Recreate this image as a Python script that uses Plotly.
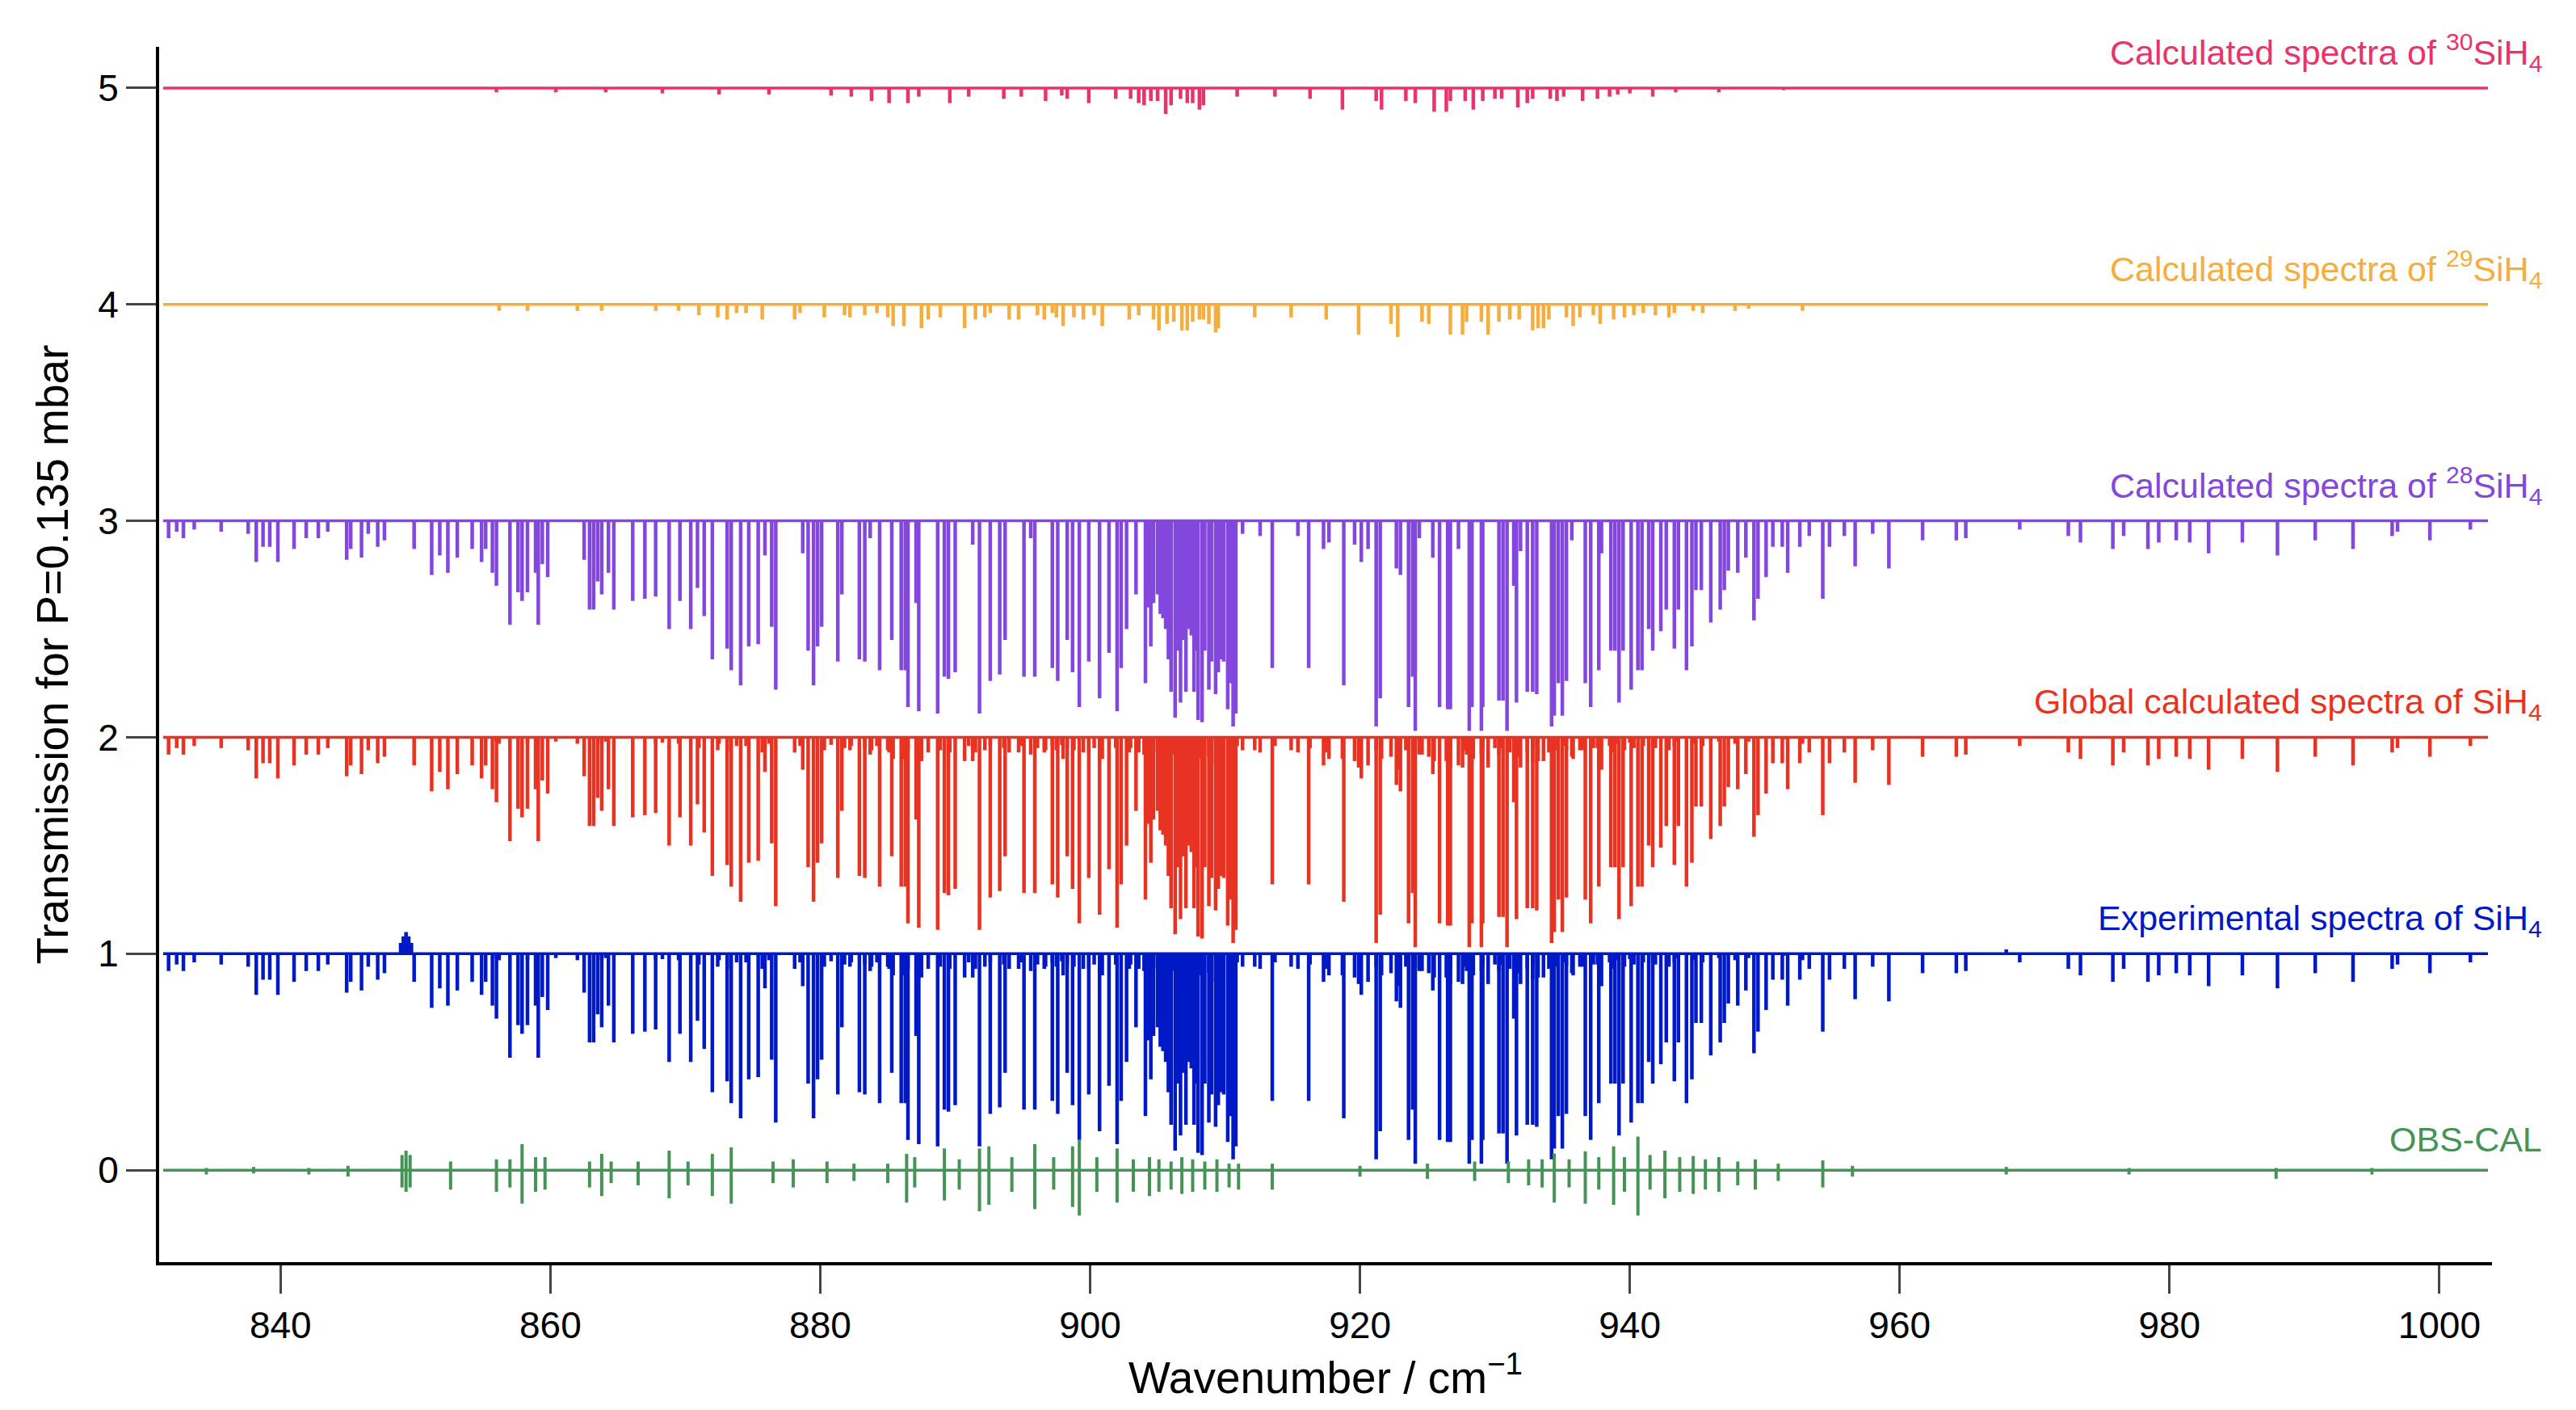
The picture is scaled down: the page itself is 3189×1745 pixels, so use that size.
import plotly.graph_objects as go

# --- 28SiH4 calculated lines (wavenumber, depth in transmission units)
si28_wn = [831.7, 832.3, 832.8, 833.6, 835.6, 837.6, 838.2, 838.7, 839.2, 839.8, 841.0, 841.9,
           842.8, 843.5, 844.9, 845.2, 846.0, 846.5, 847.2, 847.7, 849.9, 851.2, 851.8, 852.4,
           853.1, 854.2, 854.9, 855.2, 855.7, 856.0, 857.0, 857.6, 857.9, 858.3, 858.9, 859.1,
           859.4, 859.8, 862.5, 862.9, 863.2, 863.5, 863.8, 864.3, 864.7, 866.1, 867.0, 867.8,
           868.8, 869.6, 870.4, 870.9, 871.4, 872.0, 873.1, 873.4, 874.1, 874.7,
           875.4, 875.9, 876.4, 876.7, 878.7, 879.1, 879.5, 879.8, 880.1, 881.3, 881.6, 882.9,
           883.3, 883.7, 884.4, 885.3, 886.0, 886.3, 886.5, 887.1, 887.3, 888.7, 889.2, 889.5,
           890.0, 891.3, 891.8, 892.6, 893.3, 893.7, 895.1, 895.6, 895.9, 897.2, 897.6, 898.3,
           898.7, 899.2, 899.9, 900.7, 901.4, 902.0, 902.3, 902.7, 903.4, 904.1, 904.3, 904.5,
           904.7, 905.0, 905.2, 905.4, 905.6, 905.8, 906.0, 906.3, 906.5, 906.7, 906.9, 907.1,
           907.3, 907.5, 907.7, 907.9, 908.0, 908.3, 908.5, 908.8, 909.0, 909.3, 909.5, 909.7,
           909.9, 910.2, 910.4, 910.6, 910.8, 911.3, 912.6, 913.5, 915.4, 916.2, 917.3, 917.7,
           918.8, 919.6, 920.1, 920.6, 921.2, 921.5, 922.7, 923.0, 923.6, 923.9, 924.1, 924.4,
           925.4, 925.9, 926.5, 926.7, 927.3, 928.1, 928.3, 929.0, 929.1, 930.3, 930.6, 930.9,
           931.4, 931.6, 931.9, 932.4, 932.8, 933.1, 934.2, 934.4, 934.7, 935.0, 935.3, 935.7,
           936.7, 937.1, 937.7, 937.9, 938.6, 938.9, 939.2, 939.5, 940.1, 940.6, 940.9, 941.4,
           941.7, 942.3, 942.7, 943.3, 943.6, 944.2, 944.6, 944.9, 945.3, 946.0, 946.7, 947.0,
           947.3, 948.0, 948.6, 949.2, 949.5, 950.1, 950.6, 951.3, 951.7, 952.6, 953.3, 954.3,
           954.8, 955.9, 956.7, 958.0, 959.2, 961.7, 964.2, 964.9, 968.9, 972.5, 973.4, 975.8,
           976.6, 978.4, 979.2, 980.5, 981.5, 982.9, 985.4, 988.0, 990.8, 993.6, 996.5, 996.9,
           999.3, 1002.3]
si28_depth = [0.08, 0.05, 0.08, 0.04, 0.05, 0.06, 0.19, 0.12, 0.12, 0.19, 0.13, 0.08,
              0.08, 0.05, 0.18, 0.13, 0.17, 0.06, 0.12, 0.09, 0.13, 0.25, 0.16, 0.24,
              0.17, 0.13, 0.19, 0.13, 0.24, 0.30, 0.48, 0.33, 0.37, 0.33, 0.24, 0.48,
              0.20, 0.26, 0.18, 0.41, 0.41, 0.28, 0.34, 0.24, 0.41, 0.37, 0.36, 0.35,
              0.50, 0.37, 0.50, 0.31, 0.44, 0.64, 0.59, 0.69, 0.76, 0.58,
              0.57, 0.16, 0.49, 0.78, 0.15, 0.60, 0.76, 0.58, 0.49, 0.65, 0.34, 0.64,
              0.65, 0.08, 0.69, 0.55, 0.69, 0.69, 0.86, 0.38, 0.88, 0.89, 0.72, 0.73,
              0.70, 0.11, 0.89, 0.74, 0.71, 0.55, 0.72, 0.08, 0.72, 0.68, 0.74, 0.55,
              0.70, 0.86, 0.65, 0.82, 0.61, 0.88, 0.68, 0.50, 0.34, 0.75, 0.40, 0.58,
              0.38, 0.34, 0.43, 0.45, 0.50, 0.64, 0.79, 0.91, 0.60, 0.84, 0.55, 0.79,
              0.50, 0.53, 0.79, 0.60, 0.92, 0.93, 0.60, 0.78, 0.65, 0.80, 0.70, 0.64,
              0.65, 0.87, 0.75, 0.95, 0.89, 0.06, 0.07, 0.68, 0.07, 0.68, 0.13, 0.10,
              0.76, 0.11, 0.19, 0.13, 0.95, 0.82, 0.22, 0.25, 0.86, 0.72, 0.97, 0.08,
              0.17, 0.86, 0.87, 0.87, 0.13, 0.97, 0.86, 0.97, 0.86, 0.83, 0.83, 0.97,
              0.30, 0.84, 0.14, 0.79, 0.79, 0.80, 0.95, 0.90, 0.75, 0.90, 0.74, 0.09,
              0.75, 0.86, 0.69, 0.15, 0.60, 0.60, 0.84, 0.60, 0.78, 0.69, 0.69, 0.50,
              0.60, 0.51, 0.41, 0.59, 0.41, 0.69, 0.58, 0.32, 0.32, 0.47, 0.41, 0.32,
              0.23, 0.24, 0.17, 0.46, 0.36, 0.26, 0.12, 0.12, 0.24, 0.12, 0.07, 0.36,
              0.12, 0.07, 0.21, 0.06, 0.22, 0.09, 0.09, 0.08, 0.04, 0.07, 0.10, 0.13,
              0.07, 0.13, 0.10, 0.09, 0.10, 0.15, 0.10, 0.16, 0.09, 0.13, 0.07, 0.05,
              0.09, 0.04]

# --- 29SiH4 calculated lines
si29_wn = [856.2, 858.3, 862.0, 863.8, 867.8, 869.5, 871.0, 872.4, 873.1, 873.8, 874.5, 875.7,
           878.1, 878.5, 880.3, 881.8, 882.2, 883.3, 884.2, 885.0, 885.4, 886.2, 887.5, 888.0,
           888.9, 890.7, 891.5, 892.2, 892.6, 894.0, 894.7, 896.1, 896.6, 897.2, 897.5, 898.0,
           898.8, 899.5, 900.3, 900.9, 902.9, 903.6, 904.7, 905.1, 905.7, 906.2, 906.8, 907.2,
           907.6, 908.1, 908.4, 908.8, 909.3, 909.5, 912.2, 914.9, 917.5, 919.9, 922.3, 922.8,
           924.6, 925.1, 926.7, 927.6, 927.9, 929.0, 929.5, 930.3, 931.1, 931.8, 932.8, 933.2,
           933.6, 934.0, 935.3, 935.8, 936.3, 937.3, 937.8, 938.8, 939.6, 940.3, 941.0, 941.9,
           942.9, 943.3, 944.7, 945.4, 947.8, 948.8, 952.8]
si29_depth = [0.03, 0.03, 0.03, 0.03, 0.03, 0.03, 0.05, 0.06, 0.07, 0.04, 0.04, 0.07,
              0.07, 0.04, 0.06, 0.05, 0.06, 0.05, 0.04, 0.06, 0.10, 0.10, 0.11, 0.07,
              0.06, 0.11, 0.07, 0.06, 0.04, 0.07, 0.07, 0.05, 0.07, 0.04, 0.06, 0.10,
              0.06, 0.07, 0.05, 0.10, 0.07, 0.05, 0.07, 0.12, 0.09, 0.08, 0.12, 0.12,
              0.08, 0.07, 0.07, 0.09, 0.13, 0.11, 0.06, 0.06, 0.07, 0.14, 0.09, 0.15,
              0.08, 0.09, 0.14, 0.14, 0.08, 0.08, 0.14, 0.08, 0.07, 0.07, 0.12, 0.11,
              0.11, 0.07, 0.06, 0.10, 0.06, 0.05, 0.09, 0.07, 0.06, 0.05, 0.04, 0.05,
              0.06, 0.04, 0.03, 0.04, 0.03, 0.02, 0.03]

# --- 30SiH4 calculated lines
si30_wn = [856.0, 860.4, 864.1, 868.3, 872.5, 876.2, 880.8, 882.3, 883.8, 885.1, 886.5, 887.3,
           889.6, 891.0, 893.6, 894.9, 896.7, 897.9, 898.3, 899.9, 901.9, 903.0, 903.6, 904.0,
           904.5, 905.0, 905.6, 906.0, 906.7, 907.2, 907.6, 908.1, 908.4, 910.9, 913.7, 916.3,
           918.7, 921.2, 921.6, 923.4, 924.1, 925.5, 926.4, 926.7, 927.8, 928.4, 929.1, 930.0,
           930.5, 931.7, 932.4, 932.8, 934.1, 934.6, 935.1, 936.5, 937.6, 938.5, 939.1, 940.0,
           941.7, 943.4, 946.6, 951.4]
si30_depth = [0.02, 0.02, 0.02, 0.025, 0.03, 0.03, 0.035, 0.04, 0.06, 0.07, 0.07, 0.04,
              0.07, 0.04, 0.05, 0.04, 0.06, 0.035, 0.05, 0.07, 0.05, 0.05, 0.07, 0.08,
              0.06, 0.06, 0.12, 0.08, 0.05, 0.07, 0.07, 0.10, 0.08, 0.04, 0.04, 0.05,
              0.10, 0.06, 0.10, 0.06, 0.07, 0.11, 0.11, 0.06, 0.06, 0.10, 0.06, 0.05,
              0.05, 0.09, 0.07, 0.05, 0.05, 0.06, 0.04, 0.06, 0.05, 0.04, 0.03, 0.025,
              0.04, 0.02, 0.02, 0.01]

# --- experimental extras: emission-like bumps above the baseline
exp_bump_wn = [848.9, 849.1, 849.3, 849.5, 849.7, 967.9]
exp_bump_height = [0.05, 0.08, 0.10, 0.08, 0.05, 0.02]

# --- OBS-CAL residual spikes (wavenumber, max, min)
res_wn = [834.5, 838.0, 842.1, 845.0, 849.0, 849.3, 849.6, 852.6, 856.0, 857.0, 857.9, 858.9,
          859.6, 862.9, 863.8, 864.5, 866.5, 868.8, 870.2, 872.0, 873.4, 876.5, 878.0, 880.5,
          882.5, 885.0, 886.4, 887.0, 889.2, 890.3, 891.8, 892.5, 894.2, 895.9, 897.3, 898.7,
          899.2, 900.5, 902.0, 903.2, 904.4, 905.1, 906.0, 906.8, 907.6, 908.5, 909.4, 910.3,
          911.0, 913.5, 920.0, 925.0, 928.5, 931.0, 932.5, 933.5, 934.4, 935.5, 936.7, 937.7,
          938.8, 939.6, 940.6, 941.5, 942.6, 943.7, 944.7, 945.6, 946.6, 948.0, 949.3, 951.0,
          954.3, 956.5, 967.9, 977.0, 987.9, 995.0]
res_max = [0.01, 0.015, 0.01, 0.02, 0.07, 0.09, 0.07, 0.04, 0.05, 0.05, 0.12, 0.06,
           0.06, 0.04, 0.075, 0.04, 0.04, 0.09, 0.04, 0.075, 0.105, 0.04, 0.05, 0.04,
           0.03, 0.03, 0.075, 0.06, 0.10, 0.05, 0.10, 0.11, 0.06, 0.12, 0.06, 0.11,
           0.14, 0.06, 0.10, 0.05, 0.06, 0.05, 0.04, 0.06, 0.05, 0.04, 0.05, 0.03,
           0.03, 0.03, 0.02, 0.03, 0.04, 0.04, 0.05, 0.05, 0.077, 0.05, 0.087, 0.06,
           0.11, 0.06, 0.155, 0.07, 0.09, 0.06, 0.065, 0.05, 0.06, 0.04, 0.05, 0.03,
           0.045, 0.02, 0.015, 0.01, 0.01, 0.01]
res_min = [-0.02, -0.015, -0.02, -0.03, -0.08, -0.10, -0.08, -0.09, -0.10, -0.08, -0.155, -0.10,
           -0.09, -0.08, -0.12, -0.06, -0.07, -0.13, -0.07, -0.12, -0.155, -0.06, -0.08, -0.06,
           -0.05, -0.06, -0.15, -0.08, -0.14, -0.09, -0.19, -0.16, -0.10, -0.18, -0.09, -0.17,
           -0.21, -0.10, -0.15, -0.10, -0.12, -0.10, -0.09, -0.11, -0.10, -0.09, -0.10, -0.08,
           -0.09, -0.09, -0.03, -0.04, -0.05, -0.06, -0.07, -0.08, -0.15, -0.08, -0.155, -0.09,
           -0.16, -0.10, -0.21, -0.09, -0.13, -0.10, -0.11, -0.09, -0.10, -0.07, -0.09, -0.05,
           -0.08, -0.03, -0.02, -0.02, -0.04, -0.02]

x_min, x_max = 831.0, 1003.9
offsets = {"30": 5, "29": 4, "28": 3, "glob": 2, "exp": 1, "res": 0}
colors = {"30": "#E8336B", "29": "#F5AD3D", "28": "#8447DE", "glob": "#E83323",
          "exp": "#0019C6", "res": "#459356"}


def stick_xy(wns, tops, bottoms):
    xs, ys = [], []
    for w, t, b in zip(wns, tops, bottoms):
        xs += [w, w, None]
        ys += [t, b, None]
    return xs, ys


fig = go.Figure()


def add_series(key, wns, depths, extra_up=None):
    base = offsets[key]
    # baseline
    fig.add_trace(go.Scatter(x=[x_min + 0.3, x_max - 0.3], y=[base, base], mode="lines",
                             line=dict(color=colors[key], width=3.5), hoverinfo="skip"))
    xs, ys = stick_xy(wns, [base] * len(wns), [base - d for d in depths])
    fig.add_trace(go.Scatter(x=xs, y=ys, mode="lines",
                             line=dict(color=colors[key], width=4.5), hoverinfo="skip"))
    if extra_up:
        ux, uy = stick_xy(extra_up[0], [base] * len(extra_up[0]),
                          [base + h for h in extra_up[1]])
        fig.add_trace(go.Scatter(x=ux, y=uy, mode="lines",
                                 line=dict(color=colors[key], width=4.5), hoverinfo="skip"))


add_series("30", si30_wn, si30_depth)
add_series("29", si29_wn, si29_depth)
add_series("28", si28_wn, si28_depth)
add_series("glob", si28_wn + si29_wn + si30_wn, si28_depth + si29_depth + si30_depth)
add_series("exp", si28_wn + si29_wn + si30_wn, si28_depth + si29_depth + si30_depth,
           extra_up=(exp_bump_wn, exp_bump_height))

# residual
fig.add_trace(go.Scatter(x=[x_min + 0.3, x_max - 0.3], y=[0, 0], mode="lines",
                         line=dict(color=colors["res"], width=3.5), hoverinfo="skip"))
rx, ry = stick_xy(res_wn, res_max, res_min)
fig.add_trace(go.Scatter(x=rx, y=ry, mode="lines",
                         line=dict(color=colors["res"], width=4), hoverinfo="skip"))

labels = [
    ("30", "Calculated spectra of <sup>30</sup>SiH<sub>4</sub>"),
    ("29", "Calculated spectra of <sup>29</sup>SiH<sub>4</sub>"),
    ("28", "Calculated spectra of <sup>28</sup>SiH<sub>4</sub>"),
    ("glob", "Global calculated spectra of SiH<sub>4</sub>"),
    ("exp", "Experimental spectra of SiH<sub>4</sub>"),
    ("res", "OBS-CAL"),
]
for key, txt in labels:
    fig.add_annotation(x=1.022, xref="paper", y=offsets[key], yref="y", text=txt,
                       showarrow=False, xanchor="right", yanchor="bottom", yshift=12,
                       font=dict(color=colors[key], size=43))

fig.update_layout(
    width=3189, height=1745,
    margin=dict(l=189, r=112, t=50, b=191),
    plot_bgcolor="white", paper_bgcolor="white",
    showlegend=False,
    font=dict(family="Liberation Sans, Arial, sans-serif", size=46, color="black"),
)
fig.update_xaxes(range=[x_min, x_max], tickvals=[840, 860, 880, 900, 920, 940, 960, 980, 1000],
                 ticks="outside", ticklen=35, tickwidth=3, showline=True, linewidth=4,
                 linecolor="black", showgrid=False, zeroline=False,
                 title=dict(text="Wavenumber / cm<sup>−1</sup>", standoff=10))
fig.update_yaxes(range=[-0.425, 5.19], tickvals=[0, 1, 2, 3, 4, 5],
                 ticks="outside", ticklen=37, tickwidth=3, showline=True, linewidth=4,
                 linecolor="black", showgrid=False, zeroline=False,
                 title=dict(text="Transmission for P=0.135 mbar", standoff=20))

fig.write_html("out.html")
